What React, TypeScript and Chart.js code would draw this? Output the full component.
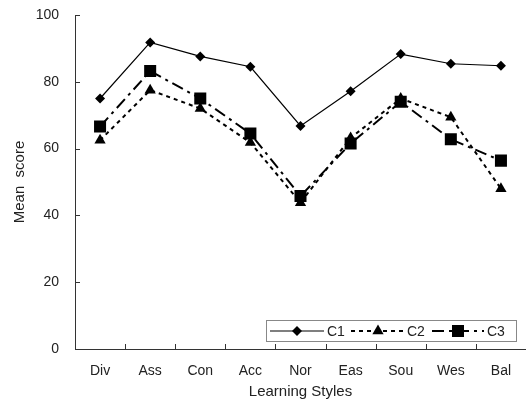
import React, { useEffect, useRef } from "react";
import { Chart, registerables } from "chart.js";

Chart.register(...registerables);

const categories = ["Div", "Ass", "Con", "Acc", "Nor", "Eas", "Sou", "Wes", "Bal"];
const c1 = [75, 91.8, 87.6, 84.5, 66.8, 77.2, 88.3, 85.4, 84.8];
const c2 = [62.5, 77.5, 72, 61.8, 43.8, 63.2, 75, 69.4, 48];
const c3 = [66.6, 83.2, 75, 64.5, 45.8, 61.5, 74, 62.8, 56.4];
const seriesNames = ["C1", "C2", "C3"];
const yMin = 0;
const yMax = 100;
const yStep = 20;

const FONT = "'Liberation Sans', Arial, sans-serif";
const INK = "#222";

const tickMarks = {
  id: "tickMarks",
  afterDatasetsDraw(chart: any) {
    const { ctx, scales, chartArea } = chart;
    const x = scales.x;
    const y = scales.y;
    ctx.save();
    ctx.strokeStyle = "#333";
    ctx.lineWidth = 1;
    ctx.beginPath();
    y.ticks.forEach((_: any, i: number) => {
      const py = Math.round(y.getPixelForTick(i)) + 0.5;
      ctx.moveTo(chartArea.left, py);
      ctx.lineTo(chartArea.left + 5, py);
    });
    for (let i = 1; i < categories.length; i++) {
      const px = Math.round((x.getPixelForValue(i - 1) + x.getPixelForValue(i)) / 2) + 0.5;
      ctx.moveTo(px, chartArea.bottom);
      ctx.lineTo(px, chartArea.bottom - 5);
    }
    ctx.stroke();
    ctx.restore();
  },
};

function drawMarker(ctx: CanvasRenderingContext2D, style: string, r: number, x: number, y: number) {
  ctx.beginPath();
  if (style === "rectRot") {
    ctx.moveTo(x, y - r);
    ctx.lineTo(x + r, y);
    ctx.lineTo(x, y + r);
    ctx.lineTo(x - r, y);
  } else if (style === "triangle") {
    ctx.moveTo(x, y - r);
    ctx.lineTo(x + r * 0.866, y + r * 0.5);
    ctx.lineTo(x - r * 0.866, y + r * 0.5);
  } else {
    const s = r * Math.SQRT1_2;
    ctx.rect(x - s, y - s, 2 * s, 2 * s);
  }
  ctx.closePath();
  ctx.fill();
}

const legendPlugin = {
  id: "boxLegend",
  afterDraw(chart: any) {
    const { ctx } = chart;
    const left = 266;
    const top = 320;
    const w = 250;
    const h = 21;
    const cy = top + h / 2 + 0.5;
    ctx.save();
    ctx.fillStyle = "#fff";
    ctx.fillRect(left, top, w, h);
    ctx.strokeStyle = "#888";
    ctx.lineWidth = 1;
    ctx.strokeRect(left + 0.5, top + 0.5, w, h);
    const entries = [
      { x0: 270, x1: 324, tx: 327 },
      { x0: 351, x1: 405, tx: 407 },
      { x0: 432, x1: 484, tx: 487 },
    ];
    chart.data.datasets.forEach((ds: any, i: number) => {
      const e = entries[i];
      ctx.save();
      ctx.strokeStyle = ds.borderColor;
      ctx.lineWidth = ds.borderWidth;
      ctx.setLineDash(ds.borderDash || []);
      ctx.beginPath();
      ctx.moveTo(e.x0, cy);
      ctx.lineTo(e.x1, cy);
      ctx.stroke();
      ctx.restore();
      ctx.fillStyle = ds.pointBackgroundColor;
      drawMarker(ctx, ds.pointStyle, ds.pointRadius, (e.x0 + e.x1) / 2, cy);
      ctx.fillStyle = INK;
      ctx.font = `14px ${FONT}`;
      ctx.textBaseline = "middle";
      ctx.textAlign = "left";
      ctx.fillText(ds.label, e.tx, cy + 1);
    });
    ctx.restore();
  },
};

export default function App() {
  const ref = useRef<HTMLCanvasElement>(null);
  useEffect(() => {
    if (!ref.current) return;
    const chart = new Chart(ref.current, {
      type: "line",
      data: {
        labels: categories,
        datasets: [
          {
            label: seriesNames[0],
            data: c1,
            borderColor: "#000",
            borderWidth: 1.2,
            pointStyle: "rectRot",
            pointRadius: 5,
            pointBackgroundColor: "#000",
            pointBorderColor: "#000",
            pointBorderWidth: 0,
          },
          {
            label: seriesNames[1],
            data: c2,
            borderColor: "#000",
            borderWidth: 2,
            borderDash: [4, 4],
            pointStyle: "triangle",
            pointRadius: 6.5,
            pointBackgroundColor: "#000",
            pointBorderColor: "#000",
            pointBorderWidth: 0,
          },
          {
            label: seriesNames[2],
            data: c3,
            borderColor: "#000",
            borderWidth: 2,
            borderDash: [12, 5, 3, 5],
            pointStyle: "rect",
            pointRadius: 8.5,
            pointBackgroundColor: "#000",
            pointBorderColor: "#000",
            pointBorderWidth: 0,
          },
        ] as any,
      },
      options: {
        responsive: false,
        animation: false,
        layout: { autoPadding: false, padding: { left: 0, right: 0, top: 15, bottom: 0 } },
        plugins: { legend: { display: false }, tooltip: { enabled: false } },
        elements: { line: { tension: 0 } },
        scales: {
          x: {
            offset: true,
            grid: { display: false, drawTicks: false },
            border: { display: true, color: "#333", width: 1 },
            ticks: { color: INK, font: { size: 14, family: FONT }, padding: 14, maxRotation: 0 },
            title: {
              display: true,
              text: "Learning Styles",
              color: INK,
              font: { size: 15, family: FONT },
              padding: { top: 0, bottom: 3 },
            },
            afterFit: (s: any) => {
              s.height = 55;
              s.paddingLeft = 0;
              s.paddingRight = 0;
            },
          },
          y: {
            min: yMin,
            max: yMax,
            grid: { display: false, drawTicks: false },
            border: { display: true, color: "#333", width: 1 },
            ticks: { stepSize: yStep, color: INK, font: { size: 14, family: FONT }, padding: 16 },
            title: {
              display: true,
              text: "Mean  score",
              color: INK,
              font: { size: 15, family: FONT },
              padding: { top: 11, bottom: 0 },
            },
            afterFit: (s: any) => {
              s.width = 75;
              s.paddingTop = 0;
              s.paddingBottom = 0;
            },
          },
        },
      },
      plugins: [tickMarks, legendPlugin],
    });
    return () => chart.destroy();
  }, []);
  return (
    <div style={{ position: "absolute", left: 0, top: 0, width: 526, height: 404, background: "#fff" }}>
      <canvas ref={ref} width={526} height={404} />
    </div>
  );
}
